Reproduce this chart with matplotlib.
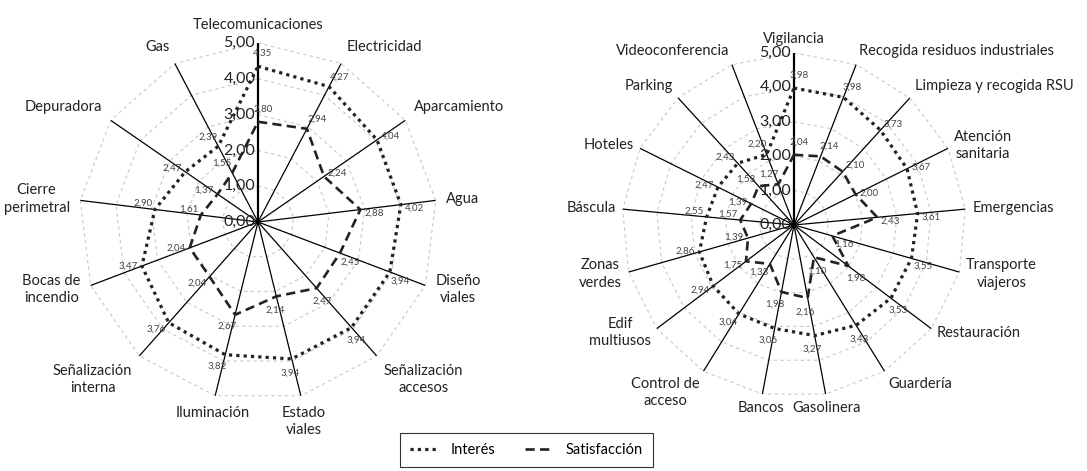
import numpy as np
import matplotlib.pyplot as plt

plt.rcParams['font.family'] = ['Lato', 'DejaVu Sans']

# left chart: infraestructuras basicas
left_labels = ['Telecomunicaciones', 'Electricidad', 'Aparcamiento', 'Agua', 'Diseño\nviales',
               'Señalización\naccesos', 'Estado\nviales', 'Iluminación', 'Señalización\ninterna',
               'Bocas de\nincendio', 'Cierre\nperimetral', 'Depuradora', 'Gas']
left_interes = [4.35, 4.27, 4.04, 4.02, 3.94, 3.94, 3.94, 3.82, 3.76, 3.47, 2.90, 2.47, 2.39]
left_satisf = [2.80, 2.94, 2.24, 2.88, 2.45, 2.47, 2.14, 2.67, 2.04, 2.04, 1.61, 1.37, 1.55]

# right chart: servicios
right_labels = ['Vigilancia', 'Recogida residuos industriales', 'Limpieza y recogida RSU',
                'Atención\nsanitaria', 'Emergencias', 'Transporte\nviajeros', 'Restauración',
                'Guardería', 'Gasolinera', 'Bancos', 'Control de\nacceso', 'Edif\nmultiusos',
                'Zonas\nverdes', 'Báscula', 'Hoteles', 'Parking', 'Videoconferencia']
right_interes = [3.98, 3.98, 3.73, 3.67, 3.61, 3.55, 3.53, 3.43, 3.27, 3.06, 3.04, 2.94,
                 2.86, 2.55, 2.47, 2.43, 2.20]
right_satisf = [2.04, 2.14, 2.10, 2.00, 2.43, 1.16, 1.98, 1.10, 2.16, 1.98, 1.33, 1.75,
                1.39, 1.57, 1.39, 1.53, 1.27]

rings = [0, 1, 2, 3, 4, 5]


def fmt(v):
    return f"{v:.2f}".replace('.', ',')


def radar(ax, labels, interes, satisf, pad):
    n = len(labels)
    theta = np.linspace(0, 2 * np.pi, n, endpoint=False)
    closed = np.append(theta, theta[0])
    ax.set_theta_zero_location('N')
    ax.set_theta_direction(-1)
    ax.set_ylim(0, 5)
    ax.axis('off')

    # dashed polygon grid
    for r in rings[1:]:
        ax.plot(closed, [r] * (n + 1), color='#c8c8c8', lw=0.8, ls=(0, (3, 3)), zorder=1)
    # spokes
    for i, t in enumerate(theta):
        ax.plot([t, t], [0, 5], color='black', lw=1.6 if i == 0 else 0.9, zorder=2)

    li, = ax.plot(closed, list(interes) + [interes[0]], color='#222222', lw=2.3,
                  ls=(0, (1, 1.3)), zorder=3, label='Interés')
    ls, = ax.plot(closed, list(satisf) + [satisf[0]], color='#222222', lw=1.9,
                  ls=(0, (3.5, 2)), zorder=3, label='Satisfacción')

    # value labels, pushed outward and a bit clockwise (counter-clockwise on the upper left)
    for t, a, b in zip(theta, interes, satisf):
        if t <= np.radians(290):
            phi = t + np.radians(20)
        else:
            phi = t - np.radians(20)
        for v in (a, b):
            ax.annotate(fmt(v), xy=(t, v), xytext=(10 * np.sin(phi), 10 * np.cos(phi)),
                        textcoords='offset points', ha='center', va='center',
                        fontsize=7, color='#444444', zorder=4)

    # ring labels on the first spoke
    for r in rings:
        ax.annotate(fmt(r), xy=(0, r), xytext=(-2, 0), textcoords='offset points',
                    ha='right', va='center', fontsize=11.5, color='#222222', zorder=4)

    # category labels
    for t, lab in zip(theta, labels):
        s, c = np.sin(t), np.cos(t)
        ha = 'left' if s > 0.3 else ('right' if s < -0.3 else 'center')
        va = 'bottom' if c > 0.5 else ('top' if c < -0.65 else 'center')
        ax.text(t, 5 + pad, lab, ha=ha, va=va, fontsize=10.5, color='#222222',
                multialignment='center', linespacing=1.3)
    return li, ls


fig = plt.figure(figsize=(10.87, 4.71), dpi=100)
ax1 = fig.add_axes([0.0727, 0.1487, 0.3293, 0.760], projection='polar')
ax2 = fig.add_axes([0.5722, 0.1571, 0.3165, 0.7304], projection='polar')

h1, h2 = radar(ax1, left_labels, left_interes, left_satisf, 0.3)
radar(ax2, right_labels, right_interes, right_satisf, 0.2)

leg = fig.legend([h1, h2], ['Interés', 'Satisfacción'], loc='center',
                 bbox_to_anchor=(0.484, 0.045), ncol=2, frameon=True, fancybox=False,
                 edgecolor='black', fontsize=10.5, handlelength=2.0, columnspacing=2.0,
                 borderpad=0.7)
leg.get_frame().set_linewidth(0.8)

fig.savefig('out.png', dpi=100)
